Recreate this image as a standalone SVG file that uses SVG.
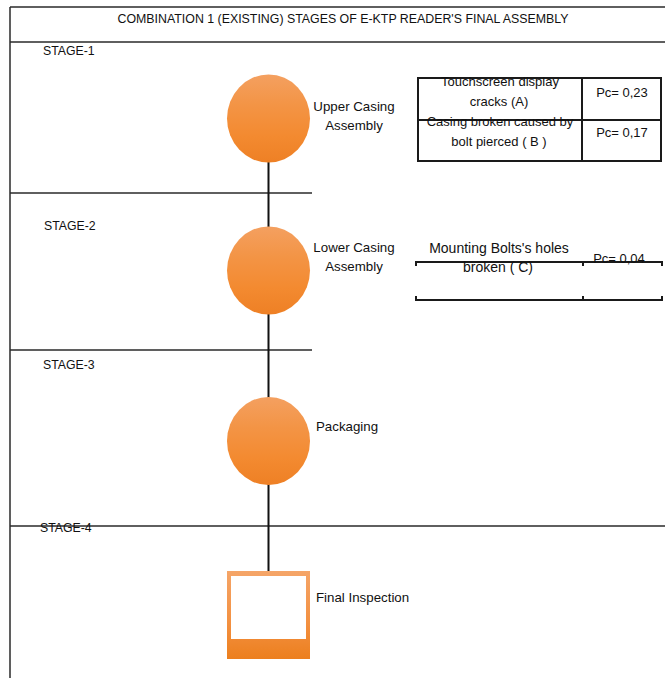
<svg xmlns="http://www.w3.org/2000/svg" width="665" height="678" viewBox="0 0 665 678">
  <defs>
    <style>
      .frame { stroke: #2a2a2a; stroke-width: 1.5; fill: none; }
      .tbl { stroke: #1a1a1a; stroke-width: 2; fill: none; }
      .conn { stroke: #111; stroke-width: 2; fill: none; }
      text { font-family: "Liberation Sans", Arial, sans-serif; fill: #111; }
      .lbl { font-size: 13.3px; }
      .stage { font-size: 12.3px; }
      .cell { font-size: 13px; text-anchor: middle; }
      .cell2 { font-size: 14px; text-anchor: middle; }
    </style>
    <linearGradient id="orb" x1="0" y1="0" x2="0" y2="1">
      <stop offset="0" stop-color="#F4A060"/>
      <stop offset="0.35" stop-color="#F39445"/>
      <stop offset="0.7" stop-color="#F38A30"/>
      <stop offset="1" stop-color="#EE8025"/>
    </linearGradient>
    <linearGradient id="sq" x1="0" y1="0" x2="0" y2="1">
      <stop offset="0" stop-color="#F5A568"/>
      <stop offset="0.6" stop-color="#F39040"/>
      <stop offset="1" stop-color="#EC7F1E"/>
    </linearGradient>
  </defs>

  <rect width="665" height="678" fill="#ffffff"/>

  <g id="frame">
    <line class="frame" x1="10" y1="7" x2="665" y2="7"/>
    <line class="frame" x1="10" y1="7" x2="10" y2="678"/>
    <line class="frame" x1="10" y1="42" x2="665" y2="42"/>
    <line class="frame" x1="10" y1="193" x2="312" y2="193"/>
    <line class="frame" x1="10" y1="350" x2="312" y2="350"/>
    <line class="frame" x1="10" y1="526" x2="665" y2="526"/>
    <text x="343" y="23" font-size="12" text-anchor="middle" textLength="451" lengthAdjust="spacingAndGlyphs">COMBINATION 1 (EXISTING) STAGES OF E-KTP READER'S FINAL ASSEMBLY</text>
    <text class="stage" x="43" y="55">STAGE-1</text>
    <text class="stage" x="44" y="230">STAGE-2</text>
    <text class="stage" x="43" y="369">STAGE-3</text>
    <text class="stage" x="40" y="532">STAGE-4</text>
  </g>

  <g id="connectors">
    <line class="conn" x1="268.5" y1="118" x2="268.5" y2="571"/>
  </g>

  <g id="node-upper-casing">
    <ellipse cx="268.5" cy="118.5" rx="41.5" ry="44" fill="url(#orb)"/>
    <text class="lbl" x="354" y="111" text-anchor="middle">Upper Casing</text>
    <text class="lbl" x="354" y="130" text-anchor="middle">Assembly</text>
  </g>

  <g id="node-lower-casing">
    <ellipse cx="268.5" cy="270.5" rx="41.5" ry="44" fill="url(#orb)"/>
    <text class="lbl" x="354" y="252" text-anchor="middle">Lower Casing</text>
    <text class="lbl" x="354" y="271" text-anchor="middle">Assembly</text>
  </g>

  <g id="node-packaging">
    <ellipse cx="268.5" cy="441" rx="41.5" ry="44" fill="url(#orb)"/>
    <text class="lbl" x="316" y="431">Packaging</text>
  </g>

  <g id="node-final-inspection">
    <rect x="227" y="571" width="83" height="88" fill="url(#sq)"/>
    <rect x="231" y="576" width="75" height="63" fill="#ffffff"/>
    <text class="lbl" x="316" y="602">Final Inspection</text>
  </g>

  <g id="table-stage1">
    <rect class="tbl" x="418" y="78" width="243" height="83"/>
    <line class="tbl" x1="582" y1="78" x2="582" y2="161"/>
    <line class="tbl" x1="418" y1="120" x2="661" y2="120"/>
    <text class="cell" x="500" y="86">Touchscreen display</text>
    <text class="cell" x="499" y="106">cracks (A)</text>
    <text class="cell" x="622" y="97">Pc= 0,23</text>
    <text class="cell" x="500" y="126">Casing broken caused by</text>
    <text class="cell" x="499" y="146">bolt pierced ( B )</text>
    <text class="cell" x="622" y="137">Pc= 0,17</text>
  </g>

  <g id="table-stage2">
    <line class="tbl" x1="415" y1="262" x2="663" y2="262"/>
    <line class="tbl" x1="415" y1="300" x2="663" y2="300"/>
    <line class="tbl" x1="416" y1="262" x2="416" y2="266"/>
    <line class="tbl" x1="583" y1="262" x2="583" y2="266"/>
    <line class="tbl" x1="662" y1="262" x2="662" y2="266"/>
    <line class="tbl" x1="416" y1="296" x2="416" y2="300"/>
    <line class="tbl" x1="583" y1="296" x2="583" y2="300"/>
    <line class="tbl" x1="662" y1="296" x2="662" y2="300"/>
    <text class="cell2" x="499" y="253">Mounting Bolts's holes</text>
    <text class="cell2" x="498" y="272">broken ( C)</text>
    <text class="cell" x="619" y="263">Pc= 0,04</text>
  </g>
</svg>
